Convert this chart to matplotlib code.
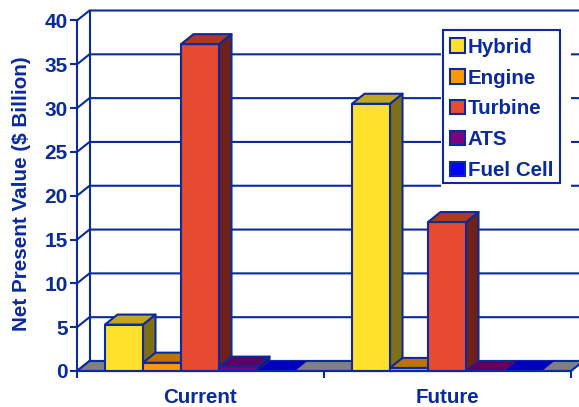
import matplotlib
matplotlib.use("Agg")
import matplotlib.pyplot as plt
from matplotlib.patches import Polygon, Patch, Rectangle

plt.rcParams['font.family'] = ['Liberation Sans', 'DejaVu Sans']
plt.rcParams['font.weight'] = 'bold'

categories = ['Current', 'Future']
series = ['Hybrid', 'Engine', 'Turbine', 'ATS', 'Fuel Cell']
current_values = [5.3, 0.95, 37.3, 0.5, 0]
future_values = [30.5, 0.35, 17.0, 0, 0]
y_ticks = [0, 5, 10, 15, 20, 25, 30, 35, 40]

front_colors = ['#FFE02B', '#FF9900', '#E84A32', '#800080', '#0000FF']
top_colors = ['#BFA820', '#BF7300', '#AE3726', '#600060', '#0000BF']
side_colors = ['#7F7016', '#7F4C00', '#6E2118', '#400040', '#000080']
navy = '#0A2A9E'
lw = 1.5

W, H = 579, 407
fig = plt.figure(figsize=(W / 100, H / 100), dpi=100)
ax = fig.add_axes([77 / W, (H - 371) / H, 494 / W, 350.5 / H])
ax.set_xlim(0, 2)
ax.set_ylim(0, 40)

# depth of the fake 3d box, in data units
dx = 12.5 / 247
dy = 10 / 8.7625
bar_w = 38 / 247
gap = 28 / 247


def poly(pts, fc, ec=navy, z=3):
    ax.add_patch(Polygon(pts, closed=True, facecolor=fc, edgecolor=ec,
                         linewidth=lw, joinstyle='round', clip_on=False, zorder=z))


# back wall
for t in y_ticks:
    ax.plot([0, dx, 2 + dx], [t, t + dy, t + dy], color=navy, lw=lw,
            clip_on=False, zorder=1, solid_joinstyle='miter')
ax.plot([dx, dx], [dy, 40 + dy], color=navy, lw=lw, clip_on=False, zorder=1)

# floor
poly([(0, 0), (2, 0), (2 + dx, dy), (dx, dy)], '#808080', z=2)

# bars, left to right so each one overlaps the side of the previous
z = 3
for c, vals in enumerate([current_values, future_values]):
    for i, v in enumerate(vals):
        x0 = c + gap + i * bar_w
        x1 = x0 + bar_w
        ec = navy if v > 0 else 'none'
        if v > 0:
            poly([(x1, 0), (x1 + dx, dy), (x1 + dx, v + dy), (x1, v)], side_colors[i], ec, z)
            poly([(x0, 0), (x1, 0), (x1, v), (x0, v)], front_colors[i], ec, z)
        poly([(x0, v), (x1, v), (x1 + dx, v + dy), (x0 + dx, v + dy)], top_colors[i], ec, z)
        z += 1

# axes and labels
for s in ['top', 'right']:
    ax.spines[s].set_visible(False)
for s in ['left', 'bottom']:
    ax.spines[s].set_color(navy)
    ax.spines[s].set_linewidth(lw)
    ax.spines[s].set_zorder(30)
ax.patch.set_visible(False)
ax.set_yticks(y_ticks)
ax.tick_params(axis='y', length=5, width=lw, color=navy, labelcolor=navy,
               labelsize=15, pad=1.5)
ax.set_xticks([0, 1, 2])
ax.set_xticklabels([])
ax.set_xticks([0.5, 1.5], minor=True)
ax.set_xticklabels(categories, minor=True)
ax.tick_params(axis='x', which='major', length=5, width=lw, color=navy)
ax.tick_params(axis='x', which='minor', length=0, labelcolor=navy, labelsize=14.8, pad=12)
ax.set_ylabel('Net Present Value ($ Billion)', color=navy, fontsize=14.9, fontweight='bold')
ax.yaxis.set_label_coords(31 / W, (H - 194) / H, transform=fig.transFigure)

# white area behind the legend, then its frame
fig.add_artist(Rectangle((441 / W, (H - 190) / H), 130 / W, 170 / H, facecolor='white',
                         edgecolor='none', transform=fig.transFigure, zorder=40))
fig.add_artist(Rectangle((443 / W, (H - 183) / H), 117 / W, 153 / H, facecolor='white',
                         edgecolor=navy, linewidth=lw, transform=fig.transFigure, zorder=41))
handles = [Patch(facecolor=col, edgecolor=navy, linewidth=lw) for col in front_colors]
leg = fig.legend(handles, series, loc='upper left',
                 bbox_to_anchor=(443 / W, (H - 30.5) / H), bbox_transform=fig.transFigure,
                 fontsize=14.8, labelcolor=navy, frameon=False,
                 borderpad=0.35, borderaxespad=0,
                 handlelength=0.7, handleheight=0.7, handletextpad=0.15,
                 labelspacing=0.575)
leg.set_zorder(50)

fig.savefig('out.png', dpi=100)
